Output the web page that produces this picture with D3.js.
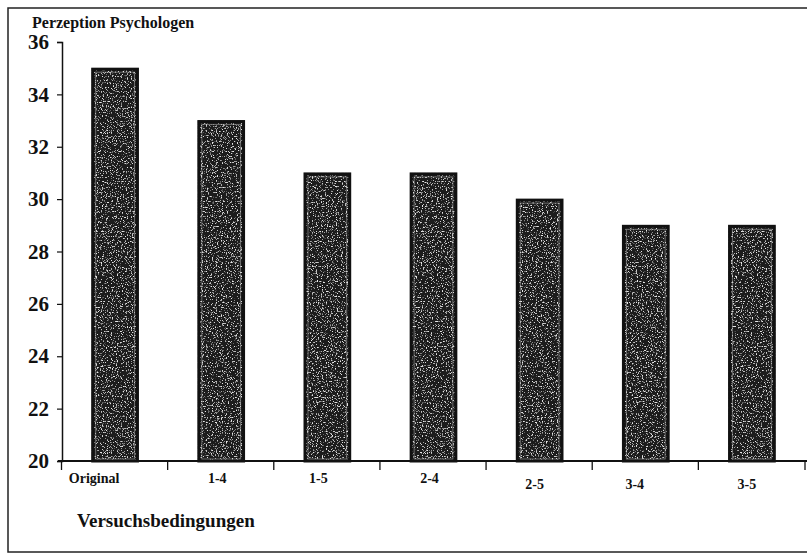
<!DOCTYPE html>
<html lang="de">
<head>
<meta charset="UTF-8">
<title>Perzeption Psychologen</title>
<script src="https://d3js.org/d3.v7.min.js"></script>
<style>
  body { margin: 0; background: #fff; }
  text { font-family: "Liberation Serif", "DejaVu Serif", serif; font-weight: bold; fill: #111; }
</style>
</head>
<body>
<script>
  // data
  const categories = ["Original", "1-4", "1-5", "2-4", "2-5", "3-4", "3-5"];
  const values = [35, 33, 31, 31, 30, 29, 29];
  const yTicks = [20, 22, 24, 26, 28, 30, 32, 34, 36];

  const width = 807, height = 555;
  const svg = d3.select("body").append("svg")
    .attr("width", width)
    .attr("height", height);

  // speckle texture for the bars
  const defs = svg.append("defs");
  const f = defs.append("filter").attr("id", "speckle")
    .attr("x", 0).attr("y", 0).attr("width", 1).attr("height", 1);
  f.append("feTurbulence").attr("type", "fractalNoise")
    .attr("baseFrequency", 0.8).attr("numOctaves", 2).attr("seed", 3)
    .attr("result", "noise");
  f.append("feColorMatrix").attr("in", "noise").attr("type", "matrix")
    .attr("values", "0 0 0 0 0.8  0 0 0 0 0.8  0 0 0 0 0.8  0 0 0 6 -3.5")
    .attr("result", "dots");
  f.append("feComposite").attr("in", "dots").attr("in2", "SourceGraphic")
    .attr("operator", "atop");

  // frame
  svg.append("rect")
    .attr("x", 8).attr("y", 8)
    .attr("width", 810).attr("height", 544)
    .attr("fill", "none").attr("stroke", "#222").attr("stroke-width", 1.5);

  const x = d3.scaleBand()
    .domain(categories)
    .range([62, 805])
    .paddingInner(0.56)
    .paddingOuter(0.28);

  const y = d3.scaleLinear()
    .domain([20, 36])
    .range([461, 42]);

  // bars
  const bars = svg.selectAll(".bar")
    .data(values)
    .join("g")
    .attr("class", "bar");

  bars.append("rect")
    .attr("x", (d, i) => x(categories[i]))
    .attr("y", d => y(d))
    .attr("width", x.bandwidth())
    .attr("height", d => y(20) - y(d))
    .attr("fill", "#1c1c1c")
    .attr("filter", "url(#speckle)");

  bars.append("rect")
    .attr("x", (d, i) => x(categories[i]) + 1)
    .attr("y", d => y(d) + 1)
    .attr("width", x.bandwidth() - 2)
    .attr("height", d => y(20) - y(d) - 1)
    .attr("fill", "none")
    .attr("stroke", "#111")
    .attr("stroke-width", 3);

  bars.append("rect")
    .attr("x", (d, i) => x(categories[i]) + 4)
    .attr("y", d => y(d) + 4)
    .attr("width", x.bandwidth() - 8)
    .attr("height", d => y(20) - y(d) - 6)
    .attr("fill", "none")
    .attr("stroke", "#bbb")
    .attr("stroke-width", 0.8)
    .attr("opacity", 0.6);

  // y axis
  const yAxis = svg.append("g")
    .attr("transform", "translate(62,0)")
    .call(d3.axisLeft(y).tickValues(yTicks).tickSize(5).tickPadding(8));
  yAxis.select(".domain").attr("stroke", "#111").attr("stroke-width", 1.5);
  yAxis.selectAll(".tick line").attr("stroke", "#111").attr("stroke-width", 1.2);
  yAxis.selectAll(".tick text")
    .style("font-family", "'Liberation Serif', serif")
    .style("font-weight", "bold")
    .style("font-size", "21px")
    .attr("fill", "#111");

  // x axis
  const xAxisLine = svg.append("g");
  xAxisLine.append("line")
    .attr("x1", 58).attr("x2", 807)
    .attr("y1", y(20)).attr("y2", y(20))
    .attr("stroke", "#111").attr("stroke-width", 2);

  const tickPos = categories.map(c => x(c) - x.step() * x.paddingInner() / 2 - 0.5);
  tickPos.push(x(categories[categories.length - 1]) + x.bandwidth() + x.step() * x.paddingInner() / 2);
  xAxisLine.selectAll(".xt")
    .data(tickPos)
    .join("line")
    .attr("class", "xt")
    .attr("x1", d => d).attr("x2", d => d)
    .attr("y1", y(20)).attr("y2", y(20) + 9)
    .attr("stroke", "#111").attr("stroke-width", 1.3);

  // category labels (slightly left of centre, as in the scan)
  const labelShift = [-21, -4, -9, -4, -5, -11, -5];
  const labelDrop = [0, 0, 0, 0, 6, 6, 6];
  svg.selectAll(".xlabel")
    .data(categories)
    .join("text")
    .attr("class", "xlabel")
    .attr("x", (d, i) => x(d) + x.bandwidth() / 2 + labelShift[i])
    .attr("y", (d, i) => 483 + labelDrop[i])
    .attr("text-anchor", "middle")
    .style("font-size", "14px")
    .text(d => d);

  // titles
  svg.append("text")
    .attr("x", 32).attr("y", 28)
    .style("font-size", "16px")
    .text("Perzeption Psychologen");

  svg.append("text")
    .attr("x", 77).attr("y", 527)
    .style("font-size", "19px")
    .text("Versuchsbedingungen");
</script>
</body>
</html>
